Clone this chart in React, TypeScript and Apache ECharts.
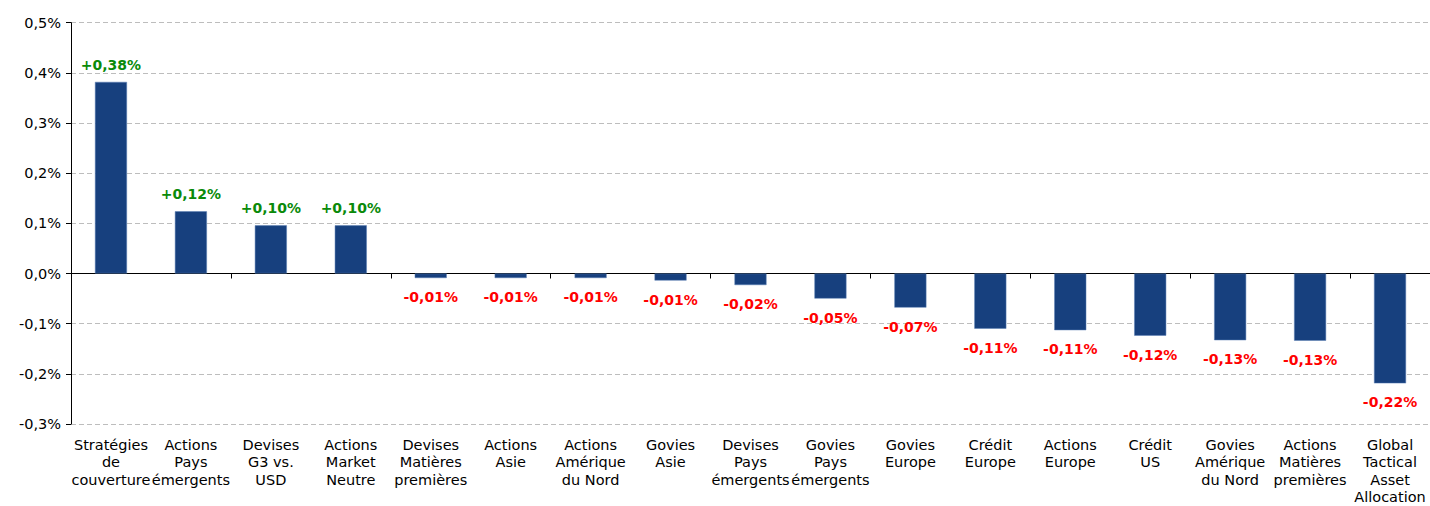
import React, { useEffect, useRef } from "react";
import * as echarts from "echarts";

const categories = [
  "Stratégies\nde\ncouverture",
  "Actions\nPays\némergents",
  "Devises\nG3 vs.\nUSD",
  "Actions\nMarket\nNeutre",
  "Devises\nMatières\npremières",
  "Actions\nAsie",
  "Actions\nAmérique\ndu Nord",
  "Govies\nAsie",
  "Devises\nPays\némergents",
  "Govies\nPays\némergents",
  "Govies\nEurope",
  "Crédit\nEurope",
  "Actions\nEurope",
  "Crédit\nUS",
  "Govies\nAmérique\ndu Nord",
  "Actions\nMatières\npremières",
  "Global\nTactical\nAsset\nAllocation",
];

const values = [
  0.382, 0.124, 0.096, 0.096, -0.009, -0.009, -0.009, -0.014, -0.023, -0.05,
  -0.068, -0.11, -0.113, -0.124, -0.133, -0.134, -0.219,
];

const yMin = -0.3;
const yMax = 0.5;
const yStep = 0.1;

const FONT = '"DejaVu Sans", Verdana, sans-serif';
const BAR_COLOR = "#17407e";
const POS_COLOR = "#0a8a0a";
const NEG_COLOR = "#ff0000";

const fmtAxis = (v: number) => {
  const x = Math.abs(v) < 1e-9 ? 0 : v;
  return x.toFixed(1).replace(".", ",") + "%";
};
const fmtLabel = (v: number) =>
  (v > 0 ? "+" : "") + v.toFixed(2).replace(".", ",") + "%";

export default function App() {
  const ref = useRef<HTMLDivElement>(null);
  useEffect(() => {
    if (!ref.current) return;
    const chart = echarts.init(ref.current, undefined, { renderer: "svg" });
    chart.setOption({
      animation: false,
      textStyle: { fontFamily: FONT },
      grid: { left: 71, right: 0, top: 22.7, bottom: 78.4, containLabel: false },
      xAxis: [
        {
          type: "category",
          data: categories,
          position: "bottom",
          axisLine: { show: false, onZero: false },
          axisTick: { show: false },
          axisLabel: {
            interval: 0,
            color: "#000",
            fontFamily: FONT,
            fontSize: 14.5,
            lineHeight: 17.5,
            margin: 12,
            align: "center",
          },
          splitLine: { show: false },
        },
        {
          type: "category",
          data: categories,
          axisLine: { show: true, onZero: true, lineStyle: { color: "#000", width: 1 } },
          axisTick: { show: true, inside: true, length: 5, lineStyle: { color: "#000" } },
          axisLabel: { show: false },
          splitLine: { show: false },
        },
      ],
      yAxis: {
        type: "value",
        min: yMin,
        max: yMax,
        interval: yStep,
        axisLine: { show: true, lineStyle: { color: "#000", width: 1 } },
        axisTick: { show: true, length: 5, lineStyle: { color: "#000" } },
        axisLabel: {
          color: "#000",
          fontFamily: FONT,
          fontSize: 14.5,
          margin: 10,
          formatter: fmtAxis,
        },
        splitLine: {
          show: true,
          lineStyle: { color: "#bdbdbd", type: [5, 3], width: 1 },
        },
      },
      series: [
        {
          type: "bar",
          xAxisIndex: 0,
          barWidth: 32,
          itemStyle: { color: BAR_COLOR, borderColor: "#5b7fb5", borderWidth: 0.5 },
          data: values.map((v) => ({
            value: v,
            label: {
              show: true,
              position: v >= 0 ? "top" : "bottom",
              distance: v >= 0 ? 10 : 12,
              color: v >= 0 ? POS_COLOR : NEG_COLOR,
              fontWeight: "bold",
              fontSize: 14,
              fontFamily: FONT,
              formatter: () => fmtLabel(v),
            },
          })),
        },
      ],
    });
    return () => chart.dispose();
  }, []);
  return (
    <div
      ref={ref}
      style={{ position: "fixed", left: 0, top: 0, width: 1430, height: 506, background: "#fff" }}
    />
  );
}
